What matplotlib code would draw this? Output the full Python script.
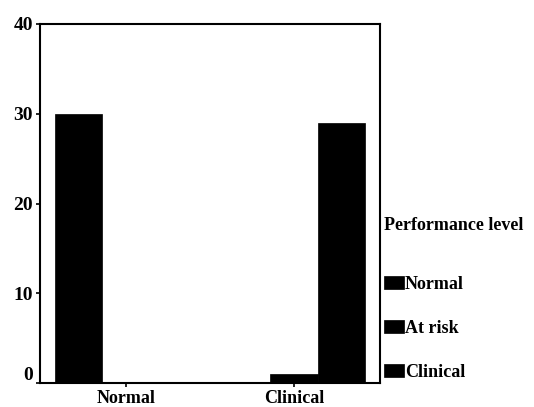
import matplotlib.pyplot as plt
import matplotlib.transforms as mtransforms
import numpy as np

# Data
categories = ['Normal', 'Clinical']
levels = ['Normal', 'At risk', 'Clinical']
counts_normal = [30, 0]
counts_at_risk = [0, 1]
counts_clinical = [0, 29]
yticks = [0, 10, 20, 30, 40]

plt.rcParams['font.family'] = ['Liberation Serif', 'DejaVu Serif']
plt.rcParams['font.weight'] = 'bold'

fig = plt.figure(figsize=(5.34, 4.07), dpi=100)
ax = fig.add_axes([40 / 534, 24 / 407, 340 / 534, 359 / 407])

x = np.arange(len(categories))
width = 0.28
series = [counts_normal, counts_at_risk, counts_clinical]
for i, (vals, lab) in enumerate(zip(series, levels)):
    ax.bar(x + (i - 1) * width, vals, width, color='black', edgecolor='black',
           linewidth=0.5, label=lab)

ax.set_xlim(-0.512, 1.512)
ax.set_ylim(0, 40)
ax.set_xticks(x)
ax.set_xticklabels(categories, fontsize=13, fontweight='bold')
ax.set_yticks(yticks)
ax.set_yticklabels([str(t) for t in yticks], fontsize=14, fontweight='bold')
ax.tick_params(axis='both', direction='out', length=3, width=1.2, pad=2)

for sp in ax.spines.values():
    sp.set_linewidth(1.5)

# lift the "0" label a little as in the original
offset = mtransforms.ScaledTranslation(0, 10 / 100, fig.dpi_scale_trans)
lbl0 = ax.get_yticklabels()[0]
lbl0.set_transform(lbl0.get_transform() + offset)

leg = ax.legend(title='Performance level', loc='upper left',
                bbox_to_anchor=(384 / 534, 1 - 217 / 407), bbox_transform=fig.transFigure,
                frameon=False, handlelength=1.1, handleheight=0.75, handletextpad=0.05,
                labelspacing=1.5, fontsize=13, title_fontsize=13, alignment='left',
                borderaxespad=0, borderpad=0)
leg.get_title().set_fontweight('bold')
leg._legend_box.sep = 30

fig.savefig('out.png', dpi=100)
